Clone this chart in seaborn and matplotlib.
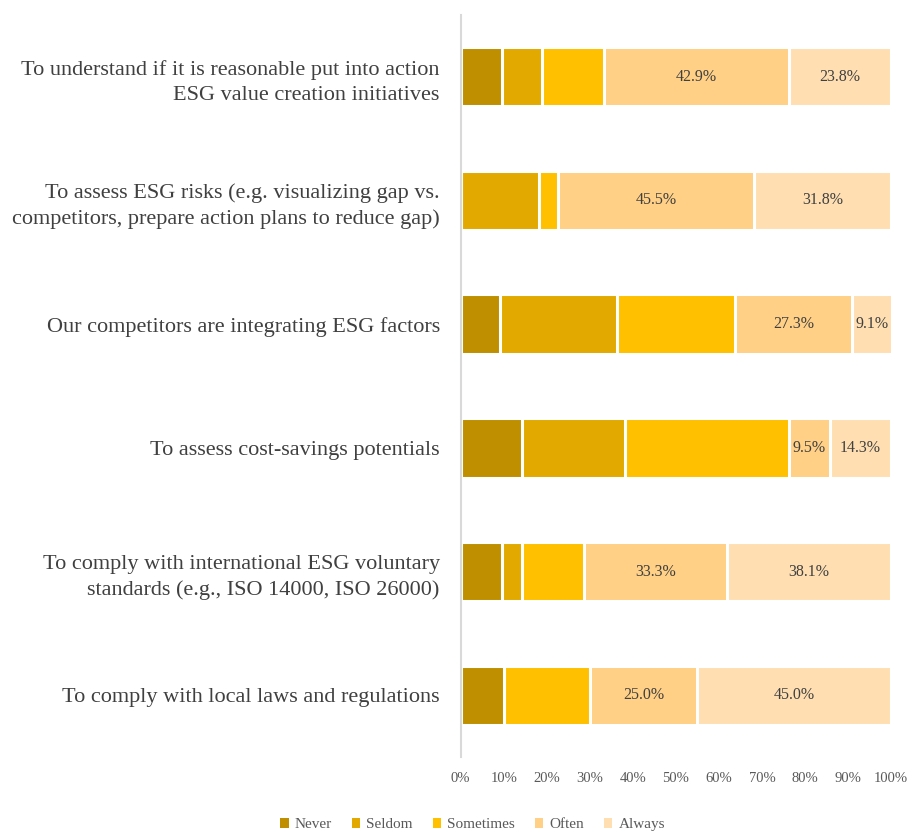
import pandas as pd
import numpy as np
import matplotlib
matplotlib.use("Agg")
from matplotlib import pyplot as plt
from matplotlib.patches import Patch
from matplotlib.ticker import FixedLocator, PercentFormatter
import seaborn as sns

# categories, top to bottom
reasons = [
    "To understand if it is reasonable put into action\nESG value creation initiatives",
    "To assess ESG risks (e.g. visualizing gap vs.\ncompetitors, prepare action plans to reduce gap)",
    "Our competitors are integrating ESG factors",
    "To assess cost-savings potentials",
    "To comply with international ESG voluntary\nstandards (e.g., ISO 14000, ISO 26000)",
    "To comply with local laws and regulations",
]
levels = ["Never", "Seldom", "Sometimes", "Often", "Always"]

# shares in % per answer level
never = [9.5, 0.0, 9.1, 14.3, 9.5, 10.0]
seldom = [9.5, 18.2, 27.3, 23.8, 4.8, 0.0]
sometimes = [14.3, 4.5, 27.3, 38.1, 14.3, 20.0]
often = [42.9, 45.5, 27.3, 9.5, 33.3, 25.0]
always = [23.8, 31.8, 9.1, 14.3, 38.1, 45.0]

colors = ["#BF8F00", "#E2AA00", "#FFC000", "#FFD085", "#FFDFB2"]

df = pd.DataFrame({"reason": reasons, "Never": never, "Seldom": seldom,
                   "Sometimes": sometimes, "Often": often, "Always": always})
cum = df[levels].cumsum(axis=1)

sns.set_style("white")
plt.rcParams["font.family"] = ["Liberation Serif", "DejaVu Serif"]

fig = plt.figure(figsize=(9.14, 8.31), dpi=100)
ax = fig.add_axes([0.504, 0.089, 0.471, 0.893])

# draw cumulative bars from the longest to the shortest so they stack
for lvl, col in reversed(list(zip(levels, colors))):
    sns.barplot(x=cum[lvl], y=df["reason"], orient="h", color=col,
                width=0.48, edgecolor="white", linewidth=2.2, ax=ax,
                saturation=1)

# labels for Often and Always
for lvl in ["Often", "Always"]:
    for i in range(len(df)):
        val = df[lvl][i]
        centre = cum[lvl][i] - val / 2
        ax.text(centre, i, f"{val:.1f}%", ha="center", va="center",
                fontsize=11.5, color="#404040")

ax.set_xlim(0, 100)
ax.set_ylim(5.5, -0.5)
ax.xaxis.set_major_locator(FixedLocator(np.arange(0, 101, 10)))
ax.xaxis.set_major_formatter(PercentFormatter(decimals=0))
ax.set_xlabel("")
ax.set_ylabel("")

for s in ["top", "right", "bottom"]:
    ax.spines[s].set_visible(False)
ax.spines["left"].set_color("#D9D9D9")
ax.spines["left"].set_linewidth(1.5)

ax.tick_params(axis="x", length=0, pad=11, labelsize=10.5, labelcolor="#595959")
ax.tick_params(axis="y", which="major", length=0, pad=15, labelsize=16,
               labelcolor="#404040")
ax.yaxis.set_minor_locator(FixedLocator(np.arange(-0.5, 6, 1)))
ax.tick_params(axis="y", which="minor", length=6, width=1.5, color="#D9D9D9",
               direction="out")
for lab in ax.get_yticklabels():
    lab.set_multialignment("right")
    lab.set_linespacing(1.45)

handles = [Patch(facecolor=c, edgecolor="none", label=l) for l, c in zip(levels, colors)]
fig.legend(handles=handles, loc="lower center", bbox_to_anchor=(0.517, -0.017),
           ncol=5, frameon=False, fontsize=11, labelcolor="#595959",
           handlelength=0.55, handleheight=0.55, handletextpad=0.4,
           columnspacing=1.3)

fig.savefig("out.png", dpi=100)
